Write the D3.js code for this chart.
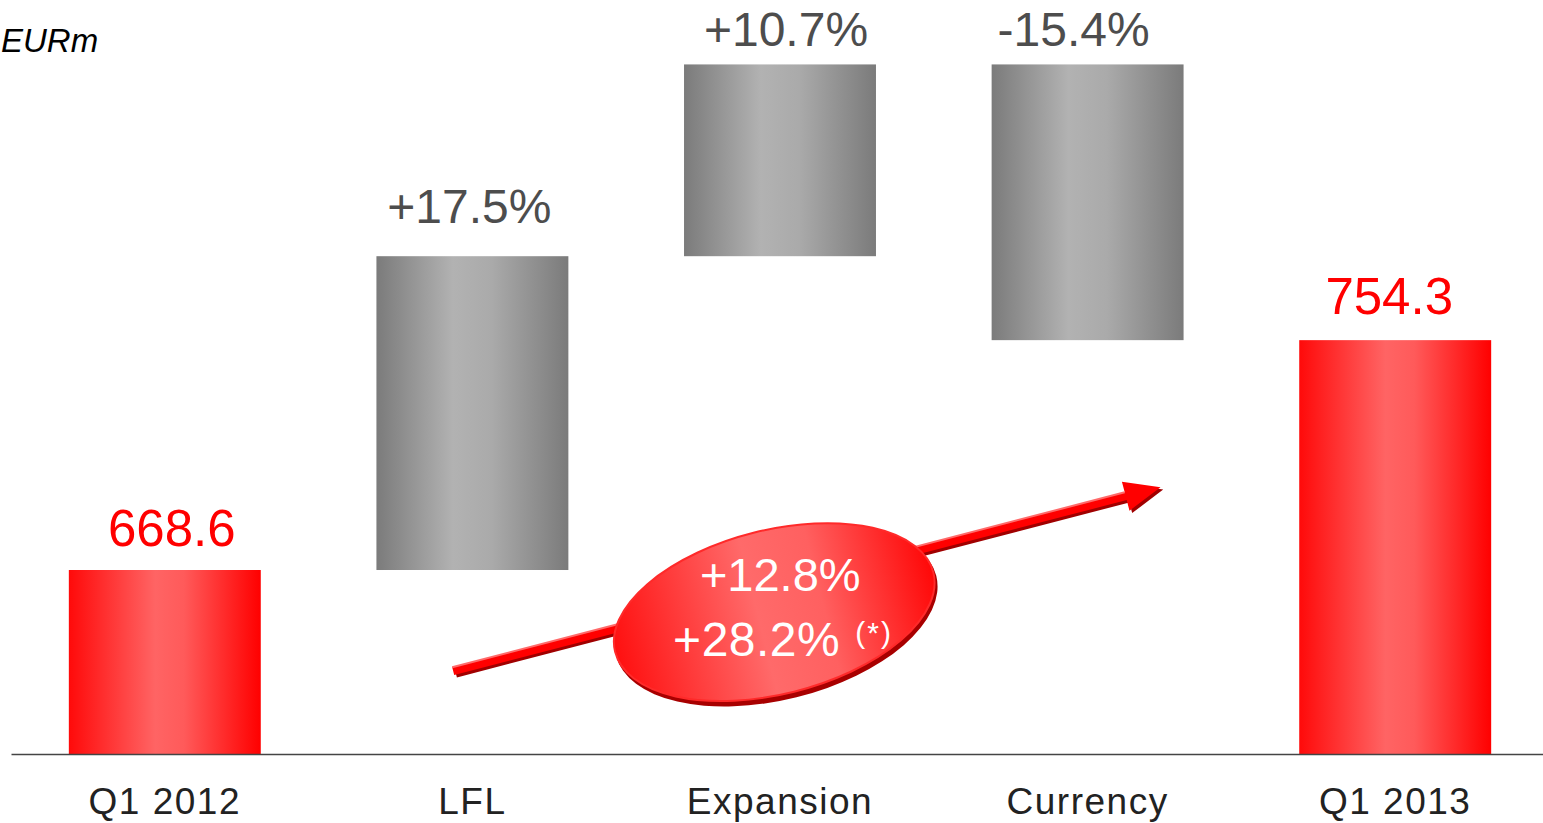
<!DOCTYPE html>
<html><head><meta charset="utf-8">
<script src="https://cdn.jsdelivr.net/npm/d3@7"></script>
<style>
html,body{margin:0;padding:0;background:#fff;overflow:hidden}
svg{display:block}
</style></head>
<body>
<script>
// ---- data ----
const categories = ["Q1 2012", "LFL", "Expansion", "Currency", "Q1 2013"];
const kinds = ["total", "delta", "delta", "delta", "total"];
const values = [668.6, 117.0, 71.5, -102.8, 754.3];
const valueLabels = ["668.6", "+17.5%", "+10.7%", "-15.4%", "754.3"];
const unitLabel = "EURm";
const growthLabels = ["+12.8%", "+28.2%"];
const footnoteMark = "(*)";

const W = 1543, H = 823;
const svg = d3.select("body").append("svg").attr("width", W).attr("height", H);
const defs = svg.append("defs");

function hGrad(id, stops) {
  const g = defs.append("linearGradient").attr("id", id).attr("x1", "0").attr("x2", "1").attr("y1", "0").attr("y2", "0");
  stops.forEach(s => g.append("stop").attr("offset", s[0]).attr("stop-color", s[1]));
}
hGrad("gGray", [["0%", "#7b7b7b"], ["40%", "#b2b2b2"], ["60%", "#aaaaaa"], ["100%", "#7b7b7b"]]);
hGrad("gRed", [["0%", "#ff0a0a"], ["45%", "#ff6464"], ["60%", "#ff5a5a"], ["100%", "#ff0000"]]);
hGrad("gEll", [["0%", "#ff1010"], ["45%", "#ff6a6a"], ["65%", "#ff6060"], ["100%", "#ff0808"]]);

// ---- waterfall computation ----
let run = 0;
const bars = categories.map((c, i) => {
  let lo, hi;
  if (kinds[i] === "total") { lo = null; hi = values[i]; run = values[i]; }
  else { const s = run; run += values[i]; lo = Math.min(s, run); hi = Math.max(s, run); }
  return { cat: c, kind: kinds[i], lo, hi, label: valueLabels[i] };
});

// ---- scales ----
const x = d3.scaleBand().domain(categories).range([11, 1549]).paddingInner(0.376).paddingOuter(0.188);
const y = d3.scaleLinear().domain([600, 880]).range([754, 3]);
const bw = x.bandwidth();

// ---- bars ----
svg.append("g").selectAll("rect").data(bars).join("rect")
  .attr("x", d => x(d.cat))
  .attr("width", bw)
  .attr("y", d => y(d.hi))
  .attr("height", d => (d.lo === null ? y.range()[0] + 1 : y(d.lo)) - y(d.hi))
  .attr("fill", d => d.kind === "total" ? "url(#gRed)" : "url(#gGray)");

// ---- axis ----
const ax = svg.append("g").attr("transform", `translate(0,${y.range()[0]})`)
  .call(d3.axisBottom(x).tickSizeInner(0).tickSizeOuter(0).tickPadding(34));
ax.select(".domain").attr("stroke", "#444").attr("stroke-width", 1.5);
ax.selectAll(".tick text").attr("font-family", "Liberation Sans, Arial, sans-serif")
  .attr("font-size", 37).attr("fill", "#222").attr("letter-spacing", "1.5px");

// ---- value labels ----
const labelGap = [24, 33, 18, 18, 26];
const labelShift = [7, -3, 6, -14, -6];
svg.append("g").selectAll("text").data(bars).join("text")
  .attr("x", (d, i) => x(d.cat) + bw / 2 + labelShift[i])
  .attr("y", (d, i) => y(d.hi) - labelGap[i])
  .attr("text-anchor", "middle")
  .attr("font-family", "Liberation Sans, Arial, sans-serif")
  .attr("font-size", d => d.kind === "total" ? 51 : 48)
  .attr("fill", d => d.kind === "total" ? "#ff0000" : "#4d4d4d")
  .text(d => d.label);

// ---- unit label ----
svg.append("text").attr("x", 1).attr("y", 52)
  .attr("font-family", "Liberation Sans, Arial, sans-serif").attr("font-style", "italic")
  .attr("font-size", 33).attr("fill", "#000").text(unitLabel);

// ---- growth arrow ----
const x0 = x("LFL") + bw * 0.4, y0 = y(630.9);
const x1 = x("Currency") + bw * 0.88, y1 = y(699.5);
const L = Math.hypot(x1 - x0, y1 - y0);
const ang = Math.atan2(y1 - y0, x1 - x0) * 180 / Math.PI;
const arrow = svg.append("g").attr("transform", `translate(${x0},${y0}) rotate(${ang})`);
const hl = 36, hw = 15, sw = 4;
const arrowPath = `M0,${-sw} L${L - hl},${-sw} L${L - hl},${-hw} L${L},0 L${L - hl},${hw} L${L - hl},${sw} L0,${sw} Z`;
arrow.append("path").attr("d", arrowPath).attr("fill", "#a00000").attr("transform", "translate(2,3)");
arrow.append("path").attr("d", arrowPath).attr("fill", "#ff0000");
arrow.append("path").attr("d", `M0,${-sw} L${L - hl},${-sw}`).attr("stroke", "#ff6a6a").attr("stroke-width", 2);

// ---- growth ellipse ----
const cx = x("Expansion") + bw * 0.47, cy = y(652.9);
const eg = svg.append("g").attr("transform", `translate(${cx},${cy}) rotate(-14)`);
eg.append("ellipse").attr("cx", 1).attr("cy", 4).attr("rx", 165).attr("ry", 84).attr("fill", "#a80000");
eg.append("ellipse").attr("rx", 164).attr("ry", 82).attr("fill", "url(#gEll)")
  .attr("stroke", "#ff2a2a").attr("stroke-width", 2);

const tg = svg.append("g").attr("font-family", "Liberation Sans, Arial, sans-serif").attr("fill", "#fff");
tg.append("text").attr("x", cx + 6).attr("y", cy - 21).attr("text-anchor", "middle")
  .attr("font-size", 47).text(growthLabels[0]);
tg.append("text").attr("x", cx + 66).attr("y", cy + 44).attr("text-anchor", "end")
  .attr("font-size", 48).attr("letter-spacing", "0.5px").text(growthLabels[1]);
tg.append("text").attr("x", cx + 81).attr("y", cy + 31)
  .attr("font-size", 30).attr("letter-spacing", "2px").text(footnoteMark);
</script>
</body></html>
